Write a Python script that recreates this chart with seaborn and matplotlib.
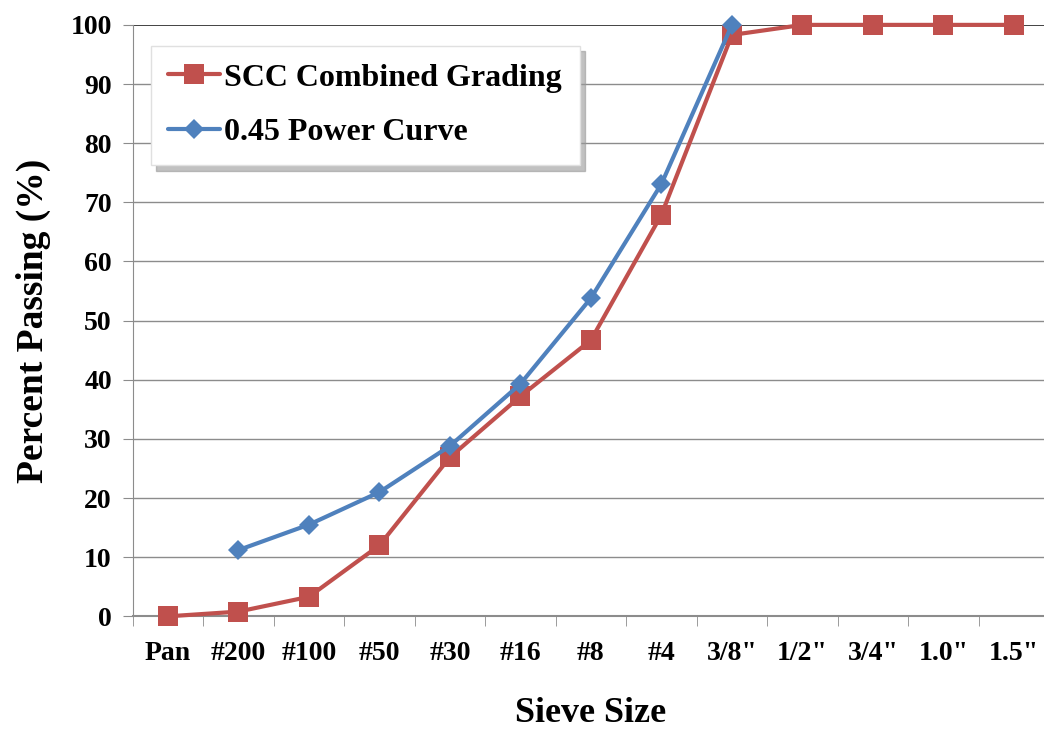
import matplotlib
matplotlib.use("Agg")
import matplotlib.pyplot as plt
import seaborn as sns
import numpy as np
import pandas as pd

sieves = ["Pan", "#200", "#100", "#50", "#30", "#16", "#8", "#4",
          "3/8\"", "1/2\"", "3/4\"", "1.0\"", "1.5\""]
scc_grading = [0, 0.8, 3.3, 12.0, 26.9, 37.2, 46.7, 67.9, 98.3, 100, 100, 100, 100]
power_sieves = ["#200", "#100", "#50", "#30", "#16", "#8", "#4", "3/8\""]
power_curve = [11.2, 15.5, 21.0, 28.8, 39.3, 53.8, 73.1, 100]
y_ticks = list(range(0, 101, 10))

RED = "#C0504D"
BLUE = "#4F81BD"

sns.set_style("white")
plt.rcParams["font.family"] = ["Liberation Serif", "DejaVu Serif"]
plt.rcParams["font.weight"] = "bold"
plt.rcParams["text.color"] = "black"
plt.rcParams["xtick.color"] = "black"
plt.rcParams["ytick.color"] = "black"
plt.rcParams["axes.labelcolor"] = "black"

fig = plt.figure(figsize=(10.44, 7.32), dpi=100)
ax = fig.add_axes([0.127, 0.158, 0.878, 0.808])

for y in y_ticks[:-1]:
    ax.axhline(y, color="#8C8C8C", lw=1.0, zorder=0)
ax.axhline(100, color="#222222", lw=1.2, zorder=0)

sns.lineplot(x=sieves, y=scc_grading, ax=ax, color=RED, lw=3, marker="s",
             markersize=15, markeredgewidth=0, label="SCC Combined Grading",
             sort=False, zorder=3, clip_on=False)
sns.lineplot(x=power_sieves, y=power_curve, ax=ax, color=BLUE, lw=3, marker="D",
             markersize=10, markeredgewidth=0, label="0.45 Power Curve",
             sort=False, zorder=4, clip_on=False)

ax.set_xlim(-0.5, len(sieves) - 0.5)
ax.set_ylim(0, 100)
ax.set_yticks(y_ticks)
ax.set_yticklabels([str(v) for v in y_ticks])
ax.set_xticks(np.arange(len(sieves)))
ax.set_xticklabels(sieves)
ax.set_xticks(np.arange(-0.5, len(sieves) + 0.5, 1), minor=True)

for s in ["top", "right"]:
    ax.spines[s].set_visible(False)
ax.spines["left"].set_color("#8C8C8C")
ax.spines["bottom"].set_color("#8C8C8C")
ax.spines["bottom"].set_linewidth(1.5)
ax.spines["bottom"].set_zorder(1)

ax.tick_params(axis="x", which="major", length=0, pad=18, labelsize=20)
ax.tick_params(axis="x", which="minor", length=7, color="#8C8C8C", direction="out", bottom=True)
ax.tick_params(axis="y", which="major", length=7, color="#8C8C8C", direction="out",
               left=True, pad=8, labelsize=20)
for lbl in ax.get_xticklabels() + ax.get_yticklabels():
    lbl.set_fontweight("bold")
    lbl.set_color("black")

ax.set_xlabel("Sieve Size", fontsize=26, fontweight="bold", labelpad=22, color="black")
ax.set_ylabel("Percent Passing (%)", fontsize=27, fontweight="bold", labelpad=14, color="black")

leg = ax.legend(loc="upper left", bbox_to_anchor=(0.02, 0.965), frameon=True,
                fancybox=False,
                shadow={"color": "0.6", "alpha": 0.6, "ox": 4, "oy": -4},
                prop={"family": "Liberation Serif", "weight": "bold", "size": 23},
                handlelength=1.6, handletextpad=0.15, labelspacing=0.8,
                borderpad=0.55, borderaxespad=0.0)
leg.get_frame().set_edgecolor("#E0E0E0")
leg.get_frame().set_linewidth(1.0)
for t in leg.get_texts():
    t.set_color("black")

fig.savefig("out.png", dpi=100)
